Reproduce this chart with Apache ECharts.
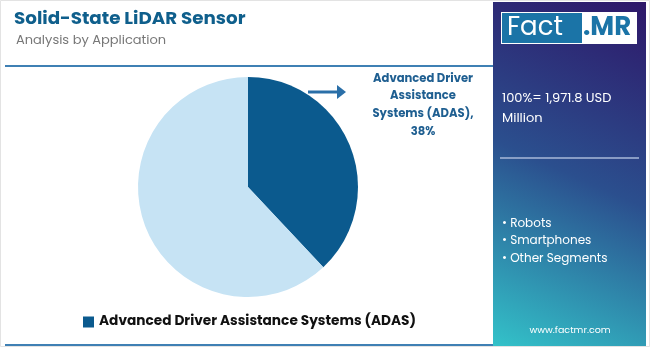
<!DOCTYPE html>
<html><head><meta charset="utf-8">
<script src="https://cdn.jsdelivr.net/npm/echarts@6/dist/echarts.min.js"></script>
<style>html,body{margin:0;padding:0;background:#fff}#c{width:650px;height:347px}</style>
</head><body><div id="c"></div>
<script>
const title = 'Solid-State LiDAR Sensor';
const subtitle = 'Analysis by Application';
const categories = ['Advanced Driver Assistance Systems (ADAS)', 'Other Applications'];
const values = [38, 62];
const totalText = ['100%= 1,971.8 USD', 'Million'];
const otherSegments = ['Robots', 'Smartphones', 'Other Segments'];
const colors = ['#0b5a8e', '#c6e3f4'];

const FONT = 'Poppins, "Open Sans", sans-serif';
const chart = echarts.init(document.getElementById('c'));
chart.setOption({
  animation: false,
  title: [
    {text: title, left: 9, top: 5, textStyle: {fontFamily: FONT, fontSize: 18.3, fontWeight: 'bold', color: '#0f5f8c'}},
    {text: subtitle, left: 11, top: 29, textStyle: {fontFamily: FONT, fontSize: 13, fontWeight: 'normal', color: '#777'}}
  ],
  legend: {
    data: [categories[0]], bottom: 13, left: 78, icon: 'rect', itemWidth: 11, itemHeight: 11, itemGap: 5,
    textStyle: {fontFamily: FONT, fontSize: 13.7, fontWeight: 'bold', color: '#111'}
  },
  series: [{
    type: 'pie', center: [248, 187], radius: 110, startAngle: 90, clockwise: true,
    label: {show: false}, labelLine: {show: false}, silent: true,
    data: categories.map((c, i) => ({name: c, value: values[i], itemStyle: {color: colors[i]}}))
  }],
  graphic: [
    {type: 'rect', shape: {x: 0.5, y: 0.5, width: 649, height: 346}, style: {fill: 'none', stroke: '#e3e3e3', lineWidth: 1}},
    {type: 'line', shape: {x1: 5, y1: 66, x2: 493, y2: 66}, style: {stroke: '#3f80b4', lineWidth: 2}},
    {type: 'line', shape: {x1: 5, y1: 345, x2: 493, y2: 345}, style: {stroke: '#3f80b4', lineWidth: 2}},
    {type: 'rect', shape: {x: 493, y: 2, width: 153, height: 344},
      style: {fill: new echarts.graphic.LinearGradient(1, 0, 0, 1, [{offset: 0, color: '#2e1769'}, {offset: 0.5, color: '#2b4f8e'}, {offset: 1, color: '#33c2c9'}])}},
    {type: 'rect', shape: {x: 501, y: 12, width: 136, height: 32}, style: {fill: '#ffffff'}},
    {type: 'rect', shape: {x: 502, y: 13, width: 80, height: 30}, style: {fill: '#1b74a7'}},
    {type: 'text', x: 507, y: 28, style: {text: 'Fact', font: 'normal 26px ' + FONT, fill: '#ffffff', verticalAlign: 'middle'}},
    {type: 'text', x: 583, y: 28, style: {text: '.MR', font: 'bold 26px ' + FONT, fill: '#1b74a7', verticalAlign: 'middle'}},
    {type: 'text', x: 502, y: 89, style: {text: totalText.join('\n'), font: 'normal 13px ' + FONT, fill: '#ffffff', lineHeight: 20}},
    {type: 'line', shape: {x1: 500, y1: 158, x2: 639, y2: 158}, style: {stroke: '#a8b8d8', lineWidth: 1.5}},
    {type: 'text', x: 502, y: 215, style: {text: otherSegments.map(s => '\u2022 ' + s).join('\n'), font: 'normal 12px ' + FONT, fill: '#ffffff', lineHeight: 17.5}},
    {type: 'text', x: 570, y: 331, style: {text: 'www.factmr.com', font: 'normal 9.5px ' + FONT, fill: '#ffffff', align: 'center', verticalAlign: 'middle'}},
    {type: 'line', shape: {x1: 308, y1: 92, x2: 338, y2: 92}, style: {stroke: '#2a6fa8', lineWidth: 3}},
    {type: 'polygon', shape: {points: [[337, 85], [346, 92], [337, 99]]}, style: {fill: '#2a6fa8'}},
    {type: 'text', x: 423, y: 70, style: {text: 'Advanced Driver\nAssistance\nSystems (ADAS),\n' + values[0] + '%', font: 'bold 11.6px ' + FONT, fill: '#1f5f91', align: 'center', lineHeight: 17.7}}
  ]
});
</script></body></html>
